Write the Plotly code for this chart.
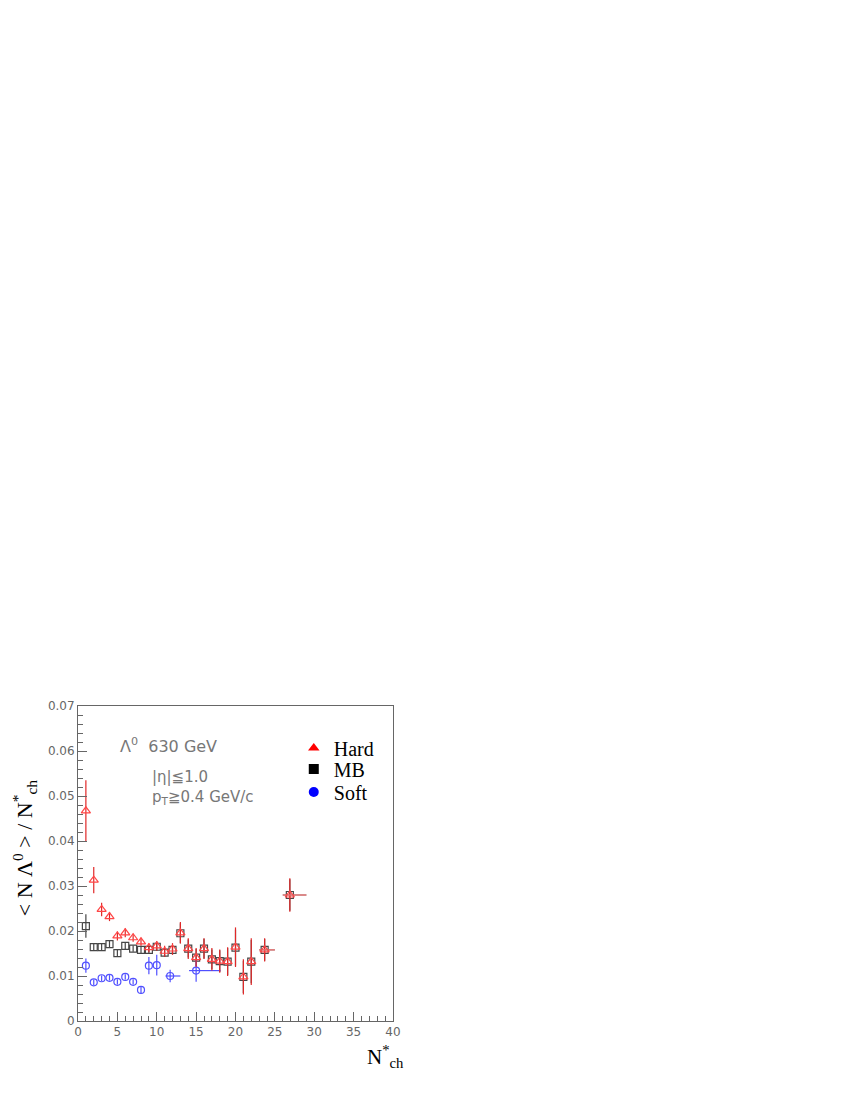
import plotly.graph_objects as go

# ---- data ----
hard_x = [1, 2, 3, 4, 5, 6, 7, 8, 9, 10, 11, 12, 13, 14, 15, 16, 17, 18, 19, 20, 21, 22, 23.7, 26.9]
hard_y = [0.0467, 0.0313, 0.0248, 0.0232, 0.0189, 0.0196, 0.0185, 0.0176, 0.0163, 0.0167, 0.0155, 0.0160,
          0.0196, 0.0161, 0.0141, 0.0161, 0.0137, 0.0133, 0.0132, 0.0164, 0.0098, 0.0132, 0.0158, 0.0280]
hard_ey = [0.0068, 0.0029, 0.0015, 0.0010, 0.0010, 0.0010, 0.0009, 0.0009, 0.0010, 0.0011, 0.0012, 0.0013,
           0.0024, 0.0023, 0.0021, 0.0023, 0.0025, 0.0026, 0.0032, 0.0044, 0.0039, 0.0052, 0.0026, 0.0037]
hard_ex_plus = [0] * 22 + [1.3, 2.1]
hard_ex_minus = [0] * 22 + [0.7, 0.9]

mb_x = [1, 2, 3, 4, 5, 6, 7, 8, 9, 10, 11, 12, 13, 14, 15, 16, 17, 18, 19, 20, 21, 22, 23.7, 26.9]
mb_y = [0.0211, 0.0164, 0.0164, 0.0171, 0.0151, 0.0167, 0.0161, 0.0158, 0.0158, 0.0165, 0.0152, 0.0158,
        0.0195, 0.0161, 0.0141, 0.0161, 0.0137, 0.0133, 0.0132, 0.0163, 0.0098, 0.0132, 0.0158, 0.0280]
mb_ey = [0.0026, 0.0008, 0.0008, 0.0007, 0.0007, 0.0007, 0.0007, 0.0007, 0.0008, 0.0009, 0.0009, 0.0010,
         0.0022, 0.0020, 0.0019, 0.0022, 0.0022, 0.0024, 0.0030, 0.0040, 0.0036, 0.0048, 0.0024, 0.0035]
mb_ex_plus = [0] * 22 + [1.3, 2.1]
mb_ex_minus = [0] * 22 + [0.7, 0.9]

soft_x = [1, 2, 3, 4, 5, 6, 7, 8, 9, 10, 11.7, 15]
soft_y = [0.0123, 0.0086, 0.0095, 0.0096, 0.0087, 0.0098, 0.0087, 0.0069, 0.0123, 0.0124, 0.0100, 0.0112]
soft_ey = [0.0016, 0.0006, 0.0006, 0.0006, 0.0006, 0.0006, 0.0006, 0.0008, 0.0019, 0.0023, 0.0014, 0.0025]
soft_ex_plus = [0] * 10 + [1.3, 3.1]
soft_ex_minus = [0] * 10 + [0.6, 0.9]

legend_names = ["Hard", "MB", "Soft"]

RED = "rgb(255,70,70)"
RED_ERR = "rgb(225,40,40)"
BLK = "rgb(70,70,70)"
BLU = "rgb(80,80,255)"

fig = go.Figure()

fig.add_trace(go.Scatter(
    x=mb_x, y=mb_y, mode="markers", showlegend=False,
    marker=dict(symbol="square-open", size=7, color=BLK, line=dict(width=1.2)),
    error_y=dict(type="data", array=mb_ey, color=BLK, thickness=1.2, width=0),
    error_x=dict(type="data", array=mb_ex_plus, arrayminus=mb_ex_minus, color=BLK, thickness=1, width=0),
))
fig.add_trace(go.Scatter(
    x=soft_x, y=soft_y, mode="markers", showlegend=False,
    marker=dict(symbol="circle-open", size=7, color=BLU, line=dict(width=1.2)),
    error_y=dict(type="data", array=soft_ey, color=BLU, thickness=1.2, width=0),
    error_x=dict(type="data", array=soft_ex_plus, arrayminus=soft_ex_minus, color=BLU, thickness=1.2, width=0),
))
fig.add_trace(go.Scatter(
    x=hard_x, y=hard_y, mode="markers", showlegend=False,
    marker=dict(symbol="triangle-up-open", size=8, color=RED, line=dict(width=1.2)),
    error_y=dict(type="data", array=hard_ey, color=RED_ERR, thickness=1.2, width=0),
    error_x=dict(type="data", array=hard_ex_plus, arrayminus=hard_ex_minus, color="rgb(255,120,120)", thickness=1.2, width=0),
))

# legend entries, each in its own legend box for exact spacing
legend_specs = [("triangle-up", "red", "legend", 0.867),
                ("square", "black", "legend2", 0.800),
                ("circle", "blue", "legend3", 0.727)]
for name, (sym, col, lg, ly) in zip(legend_names, legend_specs):
    fig.add_trace(go.Scatter(x=[None], y=[None], mode="markers", name=name, legend=lg,
                             marker=dict(symbol=sym, size=10, color=col)))

axis_common = dict(
    showgrid=False, zeroline=False, showline=True, linecolor="#666", linewidth=1, mirror=True,
    ticks="inside", tickcolor="#666", tickwidth=1,
    tickfont=dict(family="DejaVu Sans", size=12, color="#666"),
)

fig.update_xaxes(range=[0, 40], dtick=5, ticklen=9,
                 minor=dict(dtick=1, ticklen=5, ticks="inside", tickcolor="#666"), **axis_common)
fig.update_yaxes(range=[0, 0.07], dtick=0.01, ticklen=9,
                 minor=dict(dtick=0.002, ticklen=5, ticks="inside", tickcolor="#666"), **axis_common)

ann_font = dict(family="DejaVu Sans", size=16, color="#777")
fig.add_annotation(x=0.127, y=0.874, xref="paper", yref="paper", xanchor="left", yanchor="middle",
                   text="Λ<sup>0</sup>  630 GeV", showarrow=False, font=ann_font)
fig.add_annotation(x=0.228, y=0.774, xref="paper", yref="paper", xanchor="left", yanchor="middle",
                   text="|η|≦1.0", showarrow=False, font=dict(family="DejaVu Sans", size=15, color="#777"))
fig.add_annotation(x=0.228, y=0.710, xref="paper", yref="paper", xanchor="left", yanchor="middle",
                   text="p<sub>T</sub>≧0.4 GeV/c", showarrow=False, font=dict(family="DejaVu Sans", size=15, color="#777"))

fig.add_annotation(x=-0.17, y=0.55, xref="paper", yref="paper", xanchor="center", yanchor="middle",
                   text="&lt; N Λ<sup>0</sup> &gt; / N<sup>*</sup><sub>ch</sub>", textangle=-90, showarrow=False,
                   font=dict(family="Liberation Serif", size=22, color="black"))
fig.add_annotation(x=0.975, y=-0.112, xref="paper", yref="paper", xanchor="center", yanchor="middle",
                   text="N<sup>*</sup><sub>ch</sub>", showarrow=False,
                   font=dict(family="Liberation Serif", size=21, color="black"))

leg_common = dict(xanchor="left", yanchor="middle", bgcolor="rgba(0,0,0,0)",
                  font=dict(family="Liberation Serif", size=20, color="black"), itemwidth=30)
layout_legends = {}
for name, (sym, col, lg, ly) in zip(legend_names, legend_specs):
    layout_legends[lg] = dict(x=0.685, y=ly, **leg_common)

fig.update_layout(
    width=850, height=1100,
    margin=dict(l=70, r=465, t=698, b=87),
    paper_bgcolor="white", plot_bgcolor="white",
    **layout_legends,
)

fig.write_html("out.html")
